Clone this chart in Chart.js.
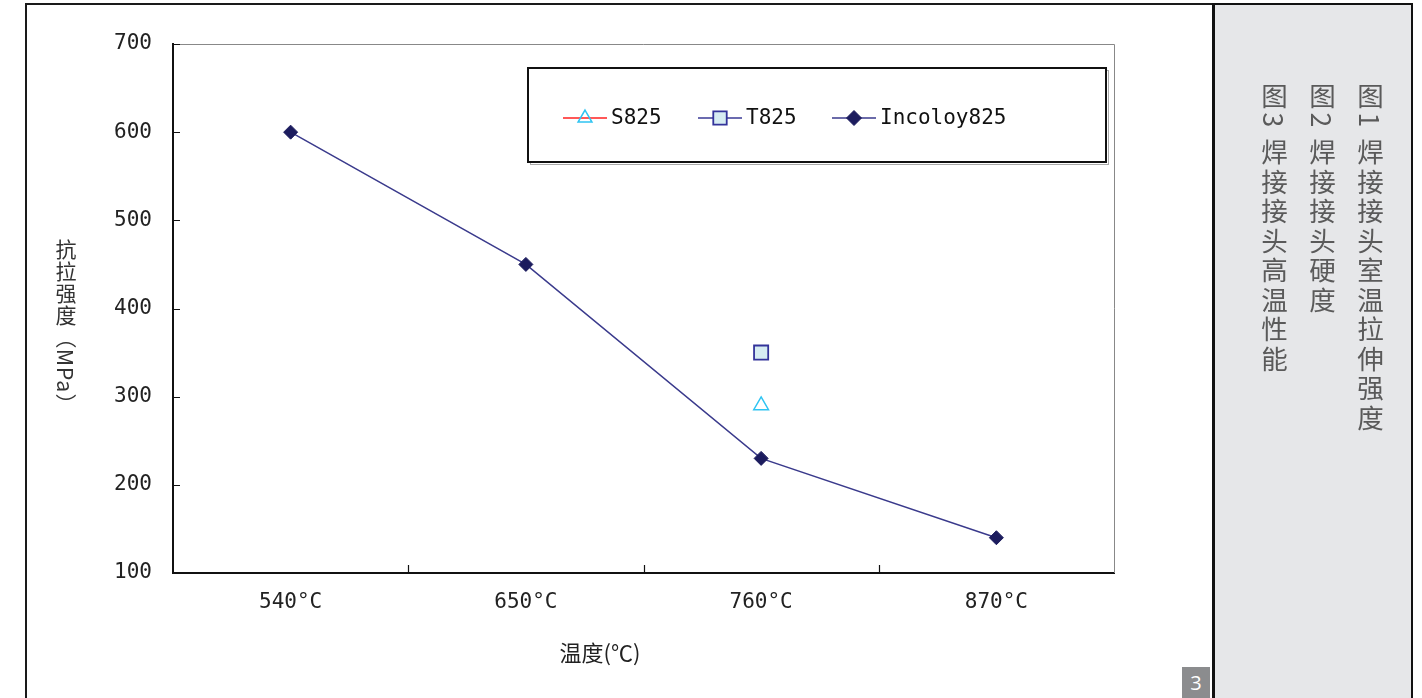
<!DOCTYPE html>
<html>
<head>
<meta charset="utf-8">
<script src="https://cdn.jsdelivr.net/npm/chart.js@4"></script>
<style>
  html, body { margin:0; padding:0; background:#fff; }
  body { width:1422px; height:698px; position:relative; overflow:hidden; }
  #c { position:absolute; left:0; top:0; }
  .frame { position:absolute; left:25px; top:3px; width:1190px; height:700px; border-left:2px solid #1a1a1a; border-top:2px solid #1a1a1a; pointer-events:none; }
  .panel { position:absolute; left:1212px; top:3px; width:196px; height:700px; background:#e6e7e9; border:2px solid #111; border-left-width:3px; pointer-events:none; }
  .panel .txt { position:absolute; right:17px; top:78px; writing-mode:vertical-rl; font-family:"Noto Sans CJK SC", sans-serif; font-size:26.5px; line-height:48px; letter-spacing:3px; color:#5a5a5a; white-space:pre; }
  .page { position:absolute; left:1182px; top:667px; width:28px; height:31px; background:#8b8c8e; color:#fff; font:20px "Open Sans", sans-serif; text-align:center; line-height:31px; }
  .ytitle { position:absolute; left:54px; top:239px; writing-mode:vertical-rl; font-family:"Noto Sans CJK SC", sans-serif; font-size:21px; line-height:24px; letter-spacing:1px; color:#333; }
</style>
</head>
<body>
<canvas id="c" width="1422" height="698"></canvas>
<div class="frame"></div>
<div class="ytitle">抗拉强度（MPa）</div>
<div class="panel"><div class="txt">图1 焊接接头室温拉伸强度
图2 焊接接头硬度
图3 焊接接头高温性能</div></div>
<div class="page">3</div>
<script>
// data
const temps = ['540°C', '650°C', '760°C', '870°C'];
const s825 = [null, null, 290, null];
const t825 = [null, null, 350, null];
const incoloy = [600, 450, 230, 140];
const yTicks = [100, 200, 300, 400, 500, 600, 700];
const xTitle = '温度(℃)';

const tickFont = { family: '"DejaVu Sans Mono", monospace', size: 21 };

// inward tick marks, light top/right border, x title, legend inside the plot
const extras = {
  id: 'extras',
  afterDraw(chart){
    const {ctx, chartArea:a, scales:{x, y}} = chart;
    ctx.save();
    ctx.strokeStyle = '#888'; ctx.lineWidth = 1;
    ctx.beginPath();
    ctx.moveTo(a.left, a.top + 0.5); ctx.lineTo(a.right + 0.5, a.top + 0.5);
    ctx.lineTo(a.right + 0.5, a.bottom);
    ctx.stroke();

    ctx.strokeStyle = '#111'; ctx.lineWidth = 1.2;
    ctx.beginPath();
    yTicks.forEach(v => { const py = Math.round(y.getPixelForValue(v)) + 0.5; ctx.moveTo(a.left, py); ctx.lineTo(a.left + 7, py); });
    for (let i = 1; i < temps.length; i++){
      const px = Math.round((x.getPixelForTick(i - 1) + x.getPixelForTick(i)) / 2) + 0.5;
      ctx.moveTo(px, a.bottom); ctx.lineTo(px, a.bottom - 8);
    }
    ctx.stroke();

    // axis title sits left of centre in the original
    ctx.fillStyle = '#222';
    ctx.font = '22px "Noto Sans CJK SC", sans-serif';
    ctx.textAlign = 'center'; ctx.textBaseline = 'middle';
    ctx.fillText(xTitle, 600, 653);

    // legend box
    const bx = 528, by = 68, bw = 578, bh = 94;
    ctx.strokeStyle = '#aaa'; ctx.lineWidth = 1;
    ctx.strokeRect(bx + 2.5, by + 2.5, bw, bh);
    ctx.fillStyle = '#fff'; ctx.fillRect(bx, by, bw, bh);
    ctx.strokeStyle = '#111'; ctx.lineWidth = 2;
    ctx.strokeRect(bx, by, bw, bh);

    const starts = [563, 698, 832];
    const cy = 118;
    ctx.font = `${tickFont.size}px ${tickFont.family}`;
    ctx.textBaseline = 'middle'; ctx.textAlign = 'left';
    chart.data.datasets.forEach((ds, i) => {
      const sx = starts[i];
      ctx.strokeStyle = ds.borderColor; ctx.lineWidth = 1.5;
      ctx.beginPath(); ctx.moveTo(sx, cy); ctx.lineTo(sx + 44, cy); ctx.stroke();
      ctx.fillStyle = ds.pointBackgroundColor; ctx.strokeStyle = ds.pointBorderColor; ctx.lineWidth = ds.pointBorderWidth;
      Chart.helpers.drawPoint(ctx, { pointStyle: ds.pointStyle, radius: ds.legendRadius, borderWidth: ds.pointBorderWidth, rotation: 0 }, sx + 22, cy);
      ctx.fillStyle = '#111';
      ctx.fillText(ds.label, sx + 48, cy + 1);
    });
    ctx.restore();
  }
};

new Chart(document.getElementById('c'), {
  type: 'line',
  data: {
    labels: temps,
    datasets: [
      { label: 'S825', data: s825, borderColor: '#ff2020', borderWidth: 1.5,
        pointStyle: 'triangle', pointRadius: 8.5, legendRadius: 8, pointBackgroundColor: 'rgba(255,255,255,0)',
        pointBorderColor: '#2fc4f2', pointBorderWidth: 1.5 },
      { label: 'T825', data: t825, borderColor: '#3a3a96', borderWidth: 1.5,
        pointStyle: 'rect', pointRadius: 10, legendRadius: 9.5, pointBackgroundColor: '#d6ecf2',
        pointBorderColor: '#33339a', pointBorderWidth: 1.8 },
      { label: 'Incoloy825', data: incoloy, borderColor: '#3a3a8c', borderWidth: 1.5,
        pointStyle: 'rectRot', pointRadius: 7, legendRadius: 7.5, pointBackgroundColor: '#1c1c5e',
        pointBorderColor: '#1c1c5e', pointBorderWidth: 1 }
    ]
  },
  options: {
    responsive: false,
    animation: false,
    layout: { padding: { left: 0, right: 308, top: 44, bottom: 34 } },
    plugins: { legend: { display: false }, tooltip: { enabled: false } },
    scales: {
      x: {
        offset: true,
        grid: { display: false, drawTicks: false },
        border: { color: '#111', width: 2 },
        ticks: { color: '#222', font: tickFont, padding: 17, maxRotation: 0 },
        afterFit(s){ s.height = 91; }
      },
      y: {
        min: 100, max: 700,
        grid: { display: false, drawTicks: false },
        border: { color: '#111', width: 2 },
        ticks: { stepSize: 100, color: '#222', font: tickFont, padding: 21 },
        afterFit(s){ s.width = 173; }
      }
    }
  },
  plugins: [extras]
});
</script>
</body>
</html>
